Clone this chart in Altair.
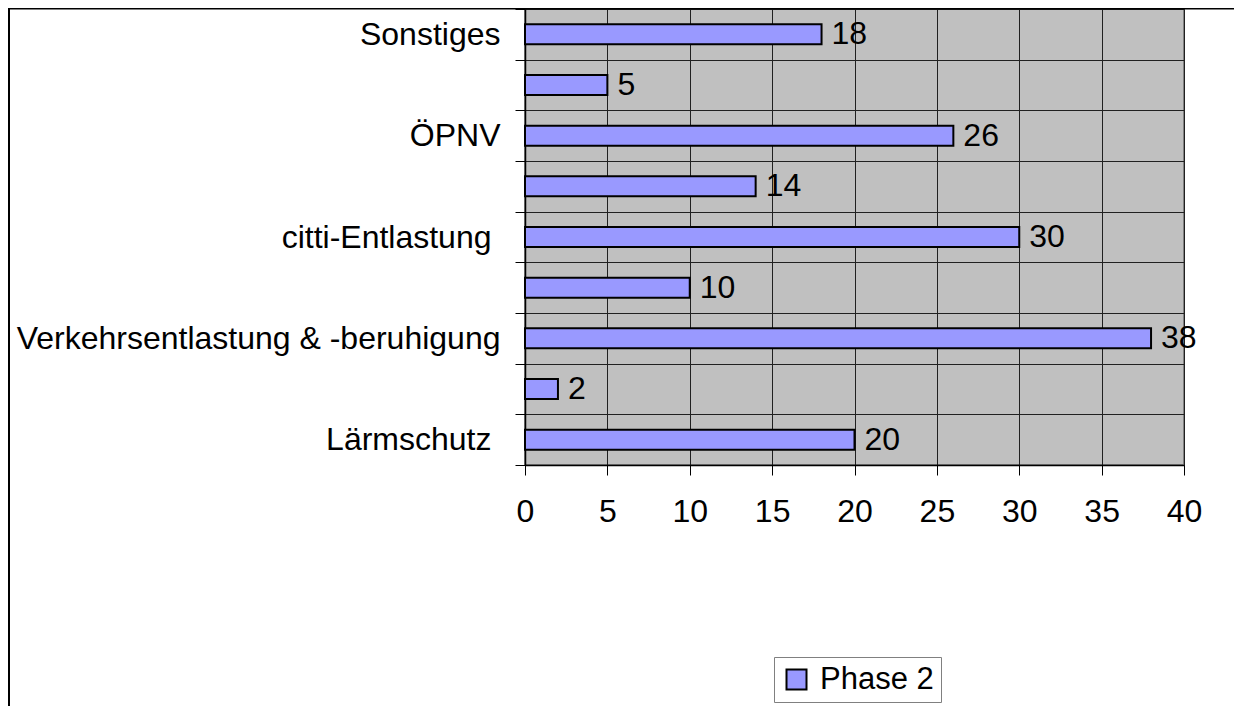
import json
import altair as alt
import pandas as pd

# Categories from top to bottom (unlabeled categories are skipped by the axis in the original)
labels = ["Sonstiges", "", "ÖPNV", "", "citti-Entlastung", "",
          "Verkehrsentlastung & -beruhigung", "", "Lärmschutz"]
values = [18, 5, 26, 14, 30, 10, 38, 2, 20]
series = "Phase 2"
x_ticks = [0, 5, 10, 15, 20, 25, 30, 35, 40]

df = pd.DataFrame({
    "pos": list(range(len(values))),
    "value": values,
    "series": [series] * len(values),
})

FONT = "Liberation Sans"
FS = 32
W, H = 659, 456

label_expr = json.dumps(labels, ensure_ascii=False) + "[datum.value]"

y_enc = alt.Y(
    "pos:O",
    scale=alt.Scale(paddingInner=0, paddingOuter=0),
    axis=alt.Axis(
        title=None, labelExpr=label_expr, tickBand="extent", tickSize=10,
        labelPadding={"condition": {"test": "datum.value == 4 || datum.value == 8", "value": 24},
                      "value": 15},
        labelFontSize=FS, labelFont=FONT, labelColor="black",
        tickColor="black", gridColor="#202020", gridWidth=1, grid=True,
        domainColor="black", domainWidth=1.5, labelLimit=700, labelOverlap=False,
    ),
)
x_enc = alt.X(
    "value:Q",
    scale=alt.Scale(domain=[0, 40], nice=False),
    axis=alt.Axis(
        title=None, values=x_ticks, tickSize=10, labelPadding=21,
        labelFontSize=FS, labelFont=FONT, labelColor="black", labelFlush=False,
        tickColor="black", grid=True, gridColor="#202020", gridWidth=1,
        domainColor="black", domainWidth=1.5,
    ),
)

bars = alt.Chart(df).mark_bar(size=20, stroke="black", strokeWidth=2).encode(
    y=y_enc,
    x=x_enc,
    color=alt.Color(
        "series:N",
        scale=alt.Scale(range=["#9999FF"]),
        legend=alt.Legend(
            title=None, orient="none", legendX=249, legendY=648,
            symbolType="square", symbolSize=400, symbolStrokeColor="black",
            symbolStrokeWidth=2, labelFontSize=31, labelFont=FONT,
            labelColor="black", labelOffset=8, strokeColor="#808080",
            padding=7, fillColor="white",
        ),
    ),
)

text = alt.Chart(df).mark_text(
    align="left", baseline="middle", dx=10, fontSize=FS, font=FONT, color="black"
).encode(y=alt.Y("pos:O"), x=alt.X("value:Q"), text=alt.Text("value:Q"))

one = pd.DataFrame({"a": [0]})
top_border = alt.Chart(one).mark_rule(color="black", strokeWidth=2).encode(
    x=alt.value(-520), x2=alt.value(760), y=alt.value(-0.5)
)
left_border = alt.Chart(one).mark_rule(color="black", strokeWidth=2).encode(
    x=alt.value(-516), y=alt.value(-2), y2=alt.value(720)
)

chart = alt.layer(bars, text, top_border, left_border).properties(
    width=W, height=H,
    autosize=alt.AutoSizeParams(type="none"),
    padding={"left": 517, "top": 1, "right": 50, "bottom": 241},
).configure(
    background="white", font=FONT
).configure_view(
    fill="#C0C0C0", stroke="#808080", strokeWidth=2
)

chart.save("out.html", embed_options={"renderer": "svg", "actions": False})
